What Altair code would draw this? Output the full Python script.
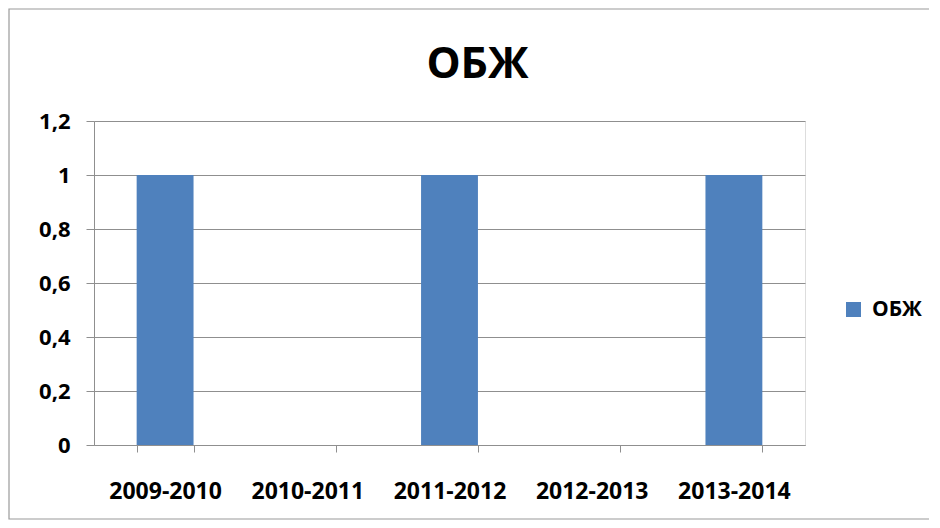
import altair as alt
import pandas as pd

years = ["2009-2010", "2010-2011", "2011-2012", "2012-2013", "2013-2014"]
values = [1, 0, 1, 0, 1]
series = "ОБЖ"
y_ticks = [0, 0.2, 0.4, 0.6, 0.8, 1.0, 1.2]

df = pd.DataFrame({"year": years, "value": values, "series": [series] * len(years)})

FONT = "Open Sans"
GRID = "#8f8f8f"

bars = alt.Chart(df).mark_bar(color="#4F81BD").encode(
    x=alt.X("year:N", sort=years,
            scale=alt.Scale(paddingInner=0.6, paddingOuter=0.3),
            axis=alt.Axis(title=None, labelAngle=0, tickBand="extent", tickSize=7,
                          tickColor=GRID, domainColor=GRID, labelPadding=28,
                          labelFont=FONT, labelFontSize=23, labelFontWeight="bold",
                          labelColor="black", grid=False)),
    y=alt.Y("value:Q", scale=alt.Scale(domain=[0, 1.2], nice=False),
            axis=alt.Axis(title=None, values=y_ticks, tickSize=8, tickColor=GRID,
                          domainColor=GRID, gridColor=GRID, grid=True,
                          labelPadding=16, labelFont=FONT, labelFontSize=22,
                          labelFontWeight="bold", labelColor="black",
                          labelExpr="replace(format(datum.value, '.1~f'), '.', ',')")),
    color=alt.Color("series:N", scale=alt.Scale(range=["#4F81BD"]),
                    legend=alt.Legend(title=None, orient="none", legendX=749, legendY=178,
                                      symbolType="square", symbolSize=225,
                                      symbolStrokeWidth=0, labelFont=FONT,
                                      labelFontSize=21, labelFontWeight="bold",
                                      labelColor="black", labelOffset=8)),
)

border = alt.Chart(pd.DataFrame({"b": [0]})).mark_rect(
    fill=None, stroke="#9a9a9a", strokeWidth=1.2
).encode(
    x=alt.value(-85), x2=alt.value(836), y=alt.value(-112), y2=alt.value(398)
)

chart = alt.layer(bars, border).properties(
    width=711, height=324,
    title=alt.Title(series, font=FONT, fontSize=43, fontWeight="bold", color="black",
                    anchor="middle", dx=28, offset=-113, baseline="alphabetic"),
    autosize=alt.AutoSizeParams(type="none"),
    padding={"left": 86, "top": 113, "right": 124, "bottom": 75},
).configure_view(stroke=None).configure(background="white")

chart.save("out.html", embed_options={"renderer": "svg", "actions": False})
